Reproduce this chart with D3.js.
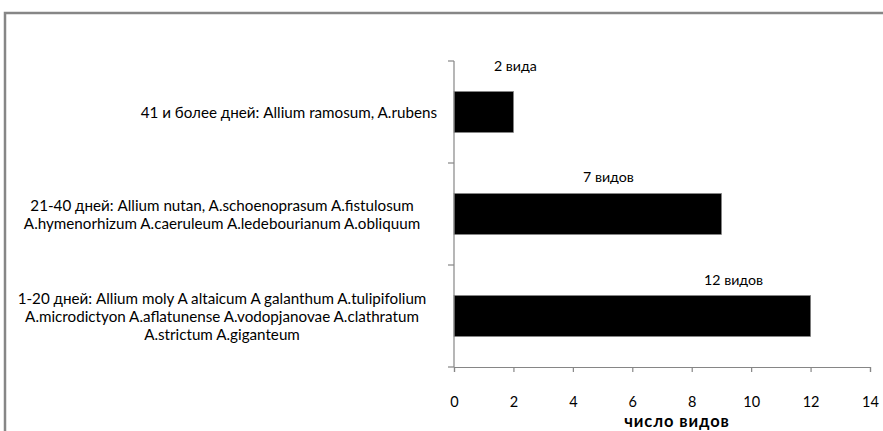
<!DOCTYPE html>
<html>
<head>
<meta charset="utf-8">
<script src="https://cdn.jsdelivr.net/npm/d3@7"></script>
<style>
  html, body { margin: 0; padding: 0; background: #fff; }
  svg { display: block; }
  .cat, .tick-lab, .bar-lab { font-family: Lato, "Open Sans", sans-serif; fill: #000; }
</style>
</head>
<body>
<svg id="chart" width="883" height="431"></svg>
<script>
// Flowering duration groups (top to bottom), with the species in each group
const categories = [
  "41 и более дней: Allium ramosum, A.rubens",
  "21-40 дней: Allium nutan, A.schoenoprasum A.fistulosum\nA.hymenorhizum A.caeruleum A.ledebourianum A.obliquum",
  "1-20 дней: Allium moly A altaicum A galanthum A.tulipifolium\nA.microdictyon A.aflatunense A.vodopjanovae A.clathratum\nA.strictum A.giganteum"
];
// Bar lengths (число видов)
const values = [2, 9, 12];
// Text placed above each bar
const barLabels = ["2 вида", "7 видов", "12 видов"];
// Value axis ticks
const xTicks = [0, 2, 4, 6, 8, 10, 12, 14];
const xTitle = "число видов";

const svg = d3.select("#chart");
const axisColor = "#868686";

// Outer chart frame (only its top and left edges fall inside the view)
svg.append("path")
  .attr("d", "M5,440 V13 H890")
  .attr("fill", "none")
  .attr("stroke", axisColor)
  .attr("stroke-width", 2.5);

const plot = { left: 454, right: 870, top: 61, bottom: 367 };

const x = d3.scaleLinear().domain([0, 14]).range([plot.left, plot.right]);
const y = d3.scaleBand()
  .domain(d3.range(categories.length))
  .range([plot.top, plot.bottom])
  .paddingInner(0.6)
  .paddingOuter(0.3);

// Bars
svg.append("g").selectAll("rect")
  .data(values)
  .join("rect")
  .attr("x", x(0))
  .attr("y", (d, i) => y(i))
  .attr("width", d => x(d) - x(0))
  .attr("height", y.bandwidth())
  .attr("fill", "#000")
  .attr("stroke", "#7f7f7f")
  .attr("stroke-width", 0.75);

// Value axis
const xAxis = d3.axisBottom(x).tickValues(xTicks).tickSize(5).tickPadding(0).tickFormat(d3.format("d"));
const gx = svg.append("g").attr("transform", `translate(0,${plot.bottom})`).call(xAxis);
gx.select(".domain").attr("stroke", axisColor).attr("stroke-width", 1.2);
gx.selectAll(".tick line").attr("stroke", axisColor).attr("stroke-width", 1.2);
gx.selectAll(".tick text")
  .attr("class", "tick-lab")
  .attr("y", 34)
  .attr("dy", null)
  .attr("dominant-baseline", "central")
  .style("font-size", "14.5px")
  .style("font-family", "Lato, 'Open Sans', sans-serif");

svg.append("text")
  .attr("x", 677)
  .attr("y", 421)
  .attr("text-anchor", "middle")
  .attr("dominant-baseline", "central")
  .style("font-family", "Lato, 'Open Sans', sans-serif")
  .style("font-weight", "bold")
  .style("font-size", "16.5px")
  .style("letter-spacing", "0.9px")
  .text(xTitle);

// Category axis: line with ticks at band boundaries
const step = y.step();
const boundaries = d3.range(categories.length + 1).map(i => plot.top + i * step);
svg.append("line")
  .attr("x1", plot.left).attr("x2", plot.left)
  .attr("y1", plot.top).attr("y2", plot.bottom)
  .attr("stroke", axisColor).attr("stroke-width", 1.2);
svg.append("g").selectAll("line")
  .data(boundaries)
  .join("line")
  .attr("x1", plot.left - 6).attr("x2", plot.left)
  .attr("y1", d => d).attr("y2", d => d)
  .attr("stroke", axisColor).attr("stroke-width", 1.2);

// Category labels: single lines sit right-aligned against the axis,
// wrapped labels are centred in the full label column
const labelRight = 437, labelWidth = 430, lineH = 18.3;
categories.forEach((c, i) => {
  const lines = c.split("\n");
  const cy = y(i) + y.bandwidth() / 2;
  const multi = lines.length > 1;
  const t = svg.append("text")
    .attr("class", "cat")
    .attr("text-anchor", multi ? "middle" : "end")
    .style("font-size", "15.2px");
  lines.forEach((ln, k) => {
    t.append("tspan")
      .attr("x", multi ? labelRight - labelWidth / 2 : labelRight)
      .attr("y", cy + (k - (lines.length - 1) / 2) * lineH)
      .attr("dominant-baseline", "central")
      .text(ln);
  });
});

// Free-standing annotations above the bars
const labelOffsets = [[2, -26], [-113, -17], [-77, -16]];
svg.append("g").selectAll("text")
  .data(barLabels)
  .join("text")
  .attr("class", "bar-lab")
  .attr("x", (d, i) => x(values[i]) + labelOffsets[i][0])
  .attr("y", (d, i) => y(i) + labelOffsets[i][1])
  .attr("text-anchor", "middle")
  .attr("dominant-baseline", "central")
  .style("font-size", "14.2px")
  .text(d => d);
</script>
</body>
</html>
